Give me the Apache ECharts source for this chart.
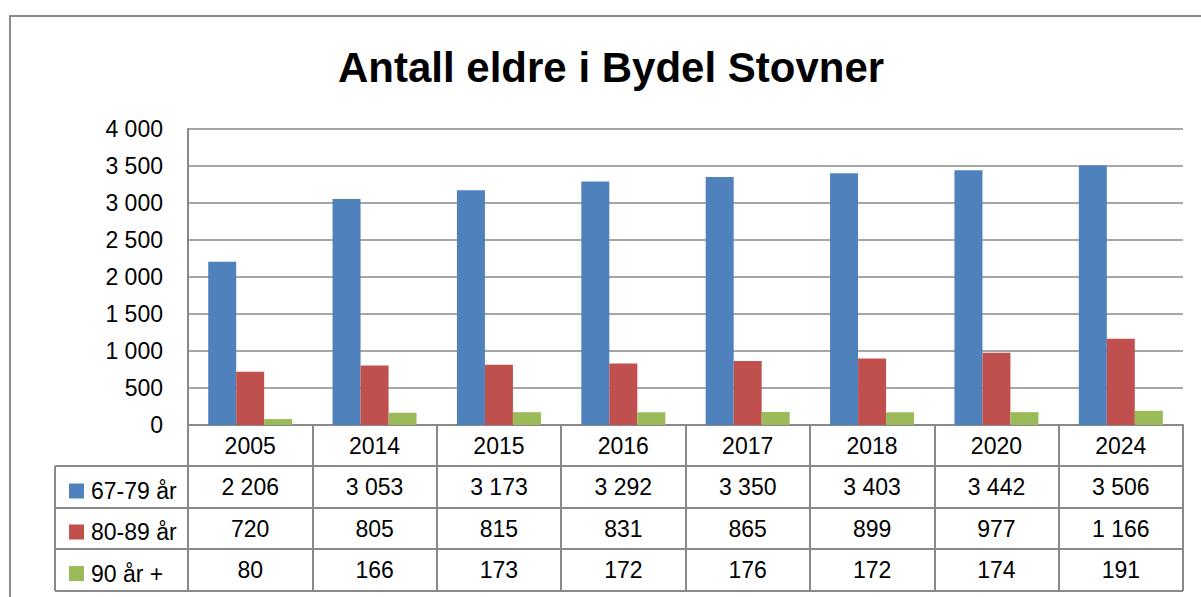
<!DOCTYPE html>
<html>
<head>
<meta charset="utf-8">
<script src="https://cdn.jsdelivr.net/npm/echarts@6/dist/echarts.min.js"></script>
<style>
html,body{margin:0;padding:0;background:#fff;}
#chart{width:1201px;height:597px;}
</style>
</head>
<body>
<div id="chart"></div>
<script>
const categories = ['2005','2014','2015','2016','2017','2018','2020','2024'];
const seriesNames = ['67-79 år','80-89 år','90 år +'];
const age6779 = [2206,3053,3173,3292,3350,3403,3442,3506];
const age8089 = [720,805,815,831,865,899,977,1166];
const age90 = [80,166,173,172,176,172,174,191];
const yTicks = [0,500,1000,1500,2000,2500,3000,3500,4000];

const colors = ['#4F81BD','#C0504D','#9BBB59'];
const FONT = 'Liberation Sans, Arial, sans-serif';
const GRAY = '#898989';
function fmt(n){ return String(n).replace(/\B(?=(\d{3})+(?!\d))/g,' '); }

const chart = echarts.init(document.getElementById('chart'), null, {renderer:'svg'});
const tableLeft = 55, tableRight = 1183;
const rowLines = [466,508,549,591];
const legendTops = [474.5,515.5,557];

const graphics = [
  {type:'rect', shape:{x:10,y:16,width:1400,height:800}, style:{fill:'none',stroke:'#8a8a8a',lineWidth:2}, silent:true, z:0}
];
rowLines.forEach(y=>{
  graphics.push({type:'line', shape:{x1:tableLeft,y1:y,x2:tableRight,y2:y}, style:{stroke:GRAY,lineWidth:2}, silent:true});
});
graphics.push({type:'line', shape:{x1:tableLeft,y1:rowLines[0],x2:tableLeft,y2:rowLines[3]}, style:{stroke:GRAY,lineWidth:2}, silent:true});

const option = {
  backgroundColor:'#fff',
  animation:false,
  color:colors,
  title:{
    text:'Antall eldre i Bydel Stovner',
    left:333, top:41,
    textStyle:{fontFamily:FONT,fontWeight:'bold',fontSize:42,color:'#000'}
  },
  legend:seriesNames.map((n,i)=>({
    orient:'vertical', left:64, top:legendTops[i],
    itemWidth:15, itemHeight:15,
    icon:'rect',
    data:[n],
    textStyle:{fontFamily:FONT,fontSize:23,color:'#000',padding:[0,0,0,2]},
    selectedMode:false
  })),
  grid:{left:188,right:18,top:129,bottom:172,containLabel:false},
  xAxis:{
    type:'category',
    data:categories,
    axisLine:{show:true,lineStyle:{color:GRAY,width:2}},
    axisTick:{show:true,length:166,interval:0,lineStyle:{color:GRAY,width:2}},
    axisLabel:{
      interval:0, margin:0,
      formatter:function(v,i){
        return '{c|'+v+'}\n{v|'+fmt(age6779[i])+'}\n{v|'+fmt(age8089[i])+'}\n{v|'+fmt(age90[i])+'}';
      },
      rich:{
        c:{fontFamily:FONT,fontSize:23,color:'#000',lineHeight:41.5,align:'center'},
        v:{fontFamily:FONT,fontSize:23,color:'#000',lineHeight:41.5,align:'center'}
      }
    }
  },
  yAxis:{
    type:'value', min:yTicks[0], max:yTicks[yTicks.length-1], interval:yTicks[1]-yTicks[0],
    axisLine:{show:true,lineStyle:{color:GRAY,width:2}},
    axisTick:{show:false},
    splitLine:{show:true,lineStyle:{color:GRAY,width:1.5}},
    axisLabel:{margin:25,fontFamily:FONT,fontSize:23,color:'#000',formatter:v=>fmt(v)}
  },
  series:[
    {name:seriesNames[0],type:'bar',data:age6779,barWidth:28,barGap:'0%'},
    {name:seriesNames[1],type:'bar',data:age8089,barWidth:28,barGap:'0%'},
    {name:seriesNames[2],type:'bar',data:age90,barWidth:28,barGap:'0%'}
  ],
  graphic:graphics
};
chart.setOption(option);
</script>
</body>
</html>
